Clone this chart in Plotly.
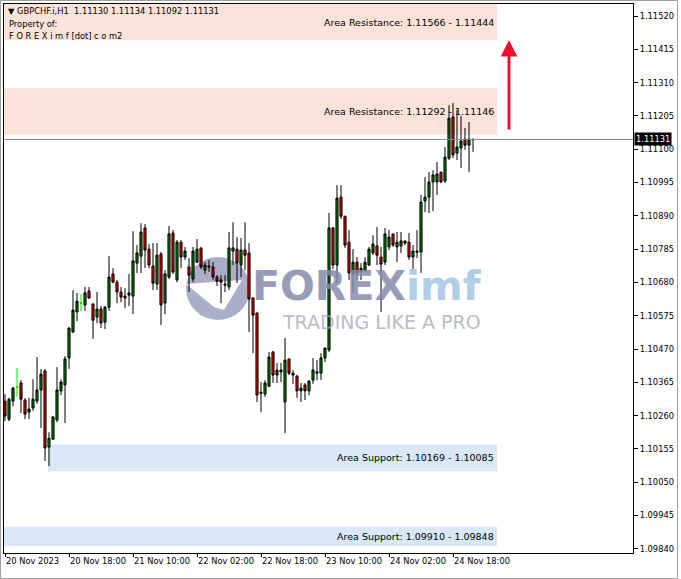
import plotly.graph_objects as go

# ---------------- data ----------------
symbol = "GBPCHF.i,H1"
opens = [1.10306, 1.10249, 1.10306, 1.10350, 1.10363, 1.10309, 1.10271, 1.10284, 1.10306, 1.10341,
         1.10401, 1.10161, 1.10186, 1.10246, 1.10338, 1.10357, 1.10442, 1.10524, 1.10587, 1.10615,
         1.10609, 1.10653, 1.10612, 1.10571, 1.10596, 1.10555, 1.10602, 1.10707, 1.10681, 1.10650,
         1.10637, 1.10640, 1.10637, 1.10741, 1.10763, 1.10852, 1.10785, 1.10732, 1.10675, 1.10770,
         1.10615, 1.10697, 1.10836, 1.10688, 1.10807, 1.10760, 1.10729, 1.10691, 1.10744, 1.10789,
         1.10719, 1.10732, 1.10729, 1.10697, 1.10688, 1.10675, 1.10666, 1.10779, 1.10785, 1.10735,
         1.10782, 1.10773, 1.10631, 1.10584, 1.10334, 1.10328, 1.10353, 1.10461, 1.10388, 1.10404,
         1.10303, 1.10439, 1.10394, 1.10385, 1.10338, 1.10357, 1.10338, 1.10372, 1.10394, 1.10394,
         1.10442, 1.10467, 1.10852, 1.10735, 1.10949, 1.10889, 1.10807, 1.10707, 1.10744, 1.10716,
         1.10716, 1.10735, 1.10773, 1.10795, 1.10760, 1.10744, 1.10792, 1.10833, 1.10792, 1.10795,
         1.10811, 1.10807, 1.10760, 1.10779, 1.10776, 1.10937, 1.10949, 1.10997, 1.10997, 1.11028,
         1.11000, 1.11072, 1.11202, 1.11088, 1.11104, 1.11132, 1.11113, 1.11130]
highs = [1.10328, 1.10316, 1.10350, 1.10410, 1.10372, 1.10316, 1.10316, 1.10375, 1.10445, 1.10407,
         1.10407, 1.10208, 1.10259, 1.10413, 1.10375, 1.10448, 1.10539, 1.10656, 1.10647, 1.10643,
         1.10666, 1.10666, 1.10615, 1.10650, 1.10606, 1.10606, 1.10763, 1.10725, 1.10688, 1.10666,
         1.10662, 1.10707, 1.10842, 1.10798, 1.10867, 1.10864, 1.10801, 1.10804, 1.10804, 1.10776,
         1.10719, 1.10858, 1.10845, 1.10814, 1.10814, 1.10792, 1.10757, 1.10792, 1.10817, 1.10789,
         1.10744, 1.10751, 1.10744, 1.10703, 1.10703, 1.10703, 1.10839, 1.10870, 1.10823, 1.10820,
         1.10870, 1.10804, 1.10634, 1.10584, 1.10366, 1.10372, 1.10461, 1.10464, 1.10426, 1.10426,
         1.10505, 1.10439, 1.10404, 1.10388, 1.10363, 1.10363, 1.10372, 1.10442, 1.10435, 1.10457,
         1.10476, 1.10899, 1.10855, 1.10987, 1.10987, 1.10889, 1.10845, 1.10785, 1.10760, 1.10741,
         1.10760, 1.10792, 1.10829, 1.10855, 1.10792, 1.10852, 1.10845, 1.10833, 1.10839, 1.10839,
         1.10811, 1.10836, 1.10798, 1.10845, 1.10956, 1.11012, 1.11028, 1.11034, 1.11060, 1.11028,
         1.11107, 1.11239, 1.11246, 1.11224, 1.11205, 1.11167, 1.11186, 1.11134]
lows = [1.10243, 1.10243, 1.10290, 1.10319, 1.10268, 1.10249, 1.10249, 1.10275, 1.10297, 1.10221,
        1.10117, 1.10101, 1.10183, 1.10240, 1.10325, 1.10237, 1.10407, 1.10520, 1.10558, 1.10590,
        1.10590, 1.10628, 1.10502, 1.10552, 1.10536, 1.10533, 1.10590, 1.10678, 1.10615, 1.10618,
        1.10599, 1.10606, 1.10580, 1.10710, 1.10710, 1.10725, 1.10725, 1.10656, 1.10656, 1.10546,
        1.10580, 1.10691, 1.10707, 1.10681, 1.10725, 1.10751, 1.10650, 1.10681, 1.10741, 1.10722,
        1.10707, 1.10713, 1.10688, 1.10669, 1.10615, 1.10650, 1.10656, 1.10735, 1.10678, 1.10697,
        1.10719, 1.10524, 1.10457, 1.10303, 1.10271, 1.10319, 1.10350, 1.10363, 1.10363, 1.10366,
        1.10205, 1.10388, 1.10360, 1.10316, 1.10303, 1.10309, 1.10325, 1.10360, 1.10372, 1.10372,
        1.10429, 1.10461, 1.10722, 1.10678, 1.10880, 1.10789, 1.10688, 1.10647, 1.10688, 1.10688,
        1.10713, 1.10732, 1.10766, 1.10735, 1.10587, 1.10735, 1.10782, 1.10792, 1.10744, 1.10773,
        1.10798, 1.10751, 1.10722, 1.10757, 1.10710, 1.10902, 1.10899, 1.10905, 1.10956, 1.10993,
        1.10993, 1.11066, 1.11072, 1.11066, 1.11041, 1.11098, 1.11028, 1.11092]
closes = [1.10259, 1.10312, 1.10347, 1.10350, 1.10312, 1.10265, 1.10281, 1.10312, 1.10341, 1.10391,
          1.10158, 1.10189, 1.10256, 1.10341, 1.10366, 1.10439, 1.10536, 1.10593, 1.10621, 1.10615,
          1.10647, 1.10631, 1.10561, 1.10596, 1.10552, 1.10602, 1.10697, 1.10681, 1.10650, 1.10634,
          1.10631, 1.10647, 1.10748, 1.10773, 1.10839, 1.10782, 1.10735, 1.10678, 1.10766, 1.10609,
          1.10707, 1.10833, 1.10713, 1.10807, 1.10760, 1.10779, 1.10703, 1.10779, 1.10785, 1.10729,
          1.10735, 1.10729, 1.10697, 1.10684, 1.10681, 1.10672, 1.10789, 1.10789, 1.10741, 1.10782,
          1.10766, 1.10628, 1.10577, 1.10325, 1.10331, 1.10363, 1.10445, 1.10388, 1.10404, 1.10398,
          1.10435, 1.10394, 1.10388, 1.10338, 1.10347, 1.10338, 1.10369, 1.10404, 1.10398, 1.10442,
          1.10473, 1.10852, 1.10735, 1.10946, 1.10889, 1.10798, 1.10710, 1.10744, 1.10710, 1.10725,
          1.10744, 1.10785, 1.10801, 1.10766, 1.10738, 1.10833, 1.10823, 1.10798, 1.10807, 1.10811,
          1.10804, 1.10760, 1.10779, 1.10776, 1.10934, 1.10949, 1.10997, 1.11019, 1.11022, 1.10997,
          1.11075, 1.11198, 1.11082, 1.11107, 1.11126, 1.11113, 1.11132, 1.11131]
bars = list(range(1, len(opens) + 1))

time_tick_bars = [1, 17, 33, 49, 65, 81, 97, 113]
time_tick_labels = ["20 Nov 2023", "20 Nov 18:00", "21 Nov 10:00", "22 Nov 02:00",
                    "22 Nov 18:00", "23 Nov 10:00", "24 Nov 02:00", "24 Nov 18:00"]

price_ticks = [1.09840, 1.09945, 1.10050, 1.10155, 1.10260, 1.10365, 1.10470, 1.10575, 1.10680,
               1.10785, 1.10890, 1.10995, 1.11100, 1.11205, 1.11310, 1.11415, 1.11520]

zone_names = ["Area Resistance", "Area Resistance", "Area Support", "Area Support"]
zone_high = [1.11566, 1.11292, 1.10169, 1.09910]
zone_low = [1.11444, 1.11146, 1.10085, 1.09848]
zone_start_bar = [0.75, 0.75, 11.75, 0.75]
zone_end_bar = 124
zone_kind = ["res", "res", "sup", "sup"]

current_price = closes[-1]
header_text = "%s  %.5f %.5f %.5f %.5f" % (symbol, opens[-1], highs[-1], lows[-1], closes[-1])

# ---------------- figure ----------------
W, H = 681, 579
ML, MR, MT, MB = 4, 48, 4, 26
PW, PH = W - ML - MR, H - MT - MB
X_MIN, X_MAX = 0.75, 0.75 + PW / 4.0
Y_MIN, Y_MAX = 1.09827, 1.11558
FONT = "DejaVu Sans"


def px(x):
    return (x - ML) / PW


def py(y):
    return 1 - (y - MT) / PH


def dx(x):
    return X_MIN + (x - ML) / PW * (X_MAX - X_MIN)


def dy(y):
    return Y_MAX - (y - MT) / PH * (Y_MAX - Y_MIN)


doji = [o == c for o, c in zip(opens, closes)]
nd = [i for i in range(len(bars)) if not doji[i]]
dj = [i for i in range(len(bars)) if doji[i]]

fig = go.Figure()

# watermark text (drawn beneath the candles)
fig.add_trace(go.Scatter(
    x=[dx(252)], y=[dy(290)], mode="text", textposition="middle right",
    text=["<b>FOREX</b><span style='color:rgba(150,190,225,0.9)'><b>imf</b></span>"],
    textfont=dict(family="DejaVu Sans", size=41, color="rgba(135,138,170,0.85)"),
    hoverinfo="skip", showlegend=False, cliponaxis=False))
fig.add_trace(go.Scatter(
    x=[dx(283)], y=[dy(324)], mode="text", textposition="middle right",
    text=["TRADING LIKE A PRO"],
    textfont=dict(family="DejaVu Sans", size=19, color="rgba(165,168,188,0.8)"),
    hoverinfo="skip", showlegend=False, cliponaxis=False))

fig.add_trace(go.Candlestick(
    x=[bars[i] for i in nd], open=[opens[i] for i in nd], high=[highs[i] for i in nd],
    low=[lows[i] for i in nd], close=[closes[i] for i in nd],
    increasing=dict(line=dict(color="black", width=1), fillcolor="#0b7a0b"),
    decreasing=dict(line=dict(color="black", width=1), fillcolor="#e60000"),
    whiskerwidth=0, showlegend=False, hoverinfo="skip"))

fig.add_trace(go.Candlestick(
    x=[bars[i] for i in dj], open=[opens[i] for i in dj], high=[highs[i] for i in dj],
    low=[lows[i] for i in dj], close=[closes[i] for i in dj],
    increasing=dict(line=dict(color="#00e600", width=1), fillcolor="#00e600"),
    decreasing=dict(line=dict(color="#00e600", width=1), fillcolor="#00e600"),
    whiskerwidth=0, showlegend=False, hoverinfo="skip"))

shapes = []
annotations = []

# window frame
shapes.append(dict(type="rect", xref="paper", yref="paper", x0=px(0.5), x1=px(W - 3.5),
                   y0=py(H - 0.5), y1=py(0.5),
                   line=dict(color="#a0a0a0", width=1), fillcolor="rgba(0,0,0,0)", layer="below"))

for name, hi, lo, sb, kind in zip(zone_names, zone_high, zone_low, zone_start_bar, zone_kind):
    fill = "#fbe3d9" if kind == "res" else "#d8e8f7"
    shapes.append(dict(type="rect", xref="x", yref="y", x0=sb, x1=zone_end_bar,
                       y0=lo, y1=hi, fillcolor=fill, line=dict(width=0), layer="below"))
    ymid = (max(lo, Y_MIN) + min(hi, Y_MAX)) / 2
    annotations.append(dict(xref="x", yref="y", x=zone_end_bar - 0.3, y=ymid,
                            text="%s: %.5f - %.5f" % (name, hi, lo), showarrow=False,
                            xanchor="right", yanchor="middle",
                            font=dict(family=FONT, size=9.5, color="black")))

# current price line
shapes.append(dict(type="line", xref="paper", yref="y", x0=0, x1=1, y0=current_price,
                   y1=current_price, line=dict(color="#7d8a96", width=1)))

# watermark logo
shapes.append(dict(type="circle", xref="paper", yref="paper",
                   x0=px(186), x1=px(250), y0=py(320), y1=py(257),
                   fillcolor="rgba(140,142,180,0.72)", line=dict(width=0), layer="below"))
shapes.append(dict(type="path", xref="paper", yref="paper",
                   path="M %f %f L %f %f L %f %f L %f %f Z" % (
                       px(186), py(284), px(242), py(280), px(224), py(310), px(214), py(307)),
                   fillcolor="white", line=dict(width=0), layer="below"))

# header texts
annotations.append(dict(xref="paper", yref="paper", x=px(6), y=py(11),
                        text="\u25bc " + header_text, showarrow=False, xanchor="left", yanchor="middle",
                        font=dict(family=FONT, size=8.3, color="black")))
annotations.append(dict(xref="paper", yref="paper", x=px(7), y=py(24),
                        text="Property of:", showarrow=False, xanchor="left", yanchor="middle",
                        font=dict(family=FONT, size=8.3, color="black")))
annotations.append(dict(xref="paper", yref="paper", x=px(7), y=py(36),
                        text="F O R E X i m f [dot] c o m2", showarrow=False, xanchor="left",
                        yanchor="middle", font=dict(family=FONT, size=8.3, color="black")))

# red arrow
annotations.append(dict(xref="x", yref="y", x=127, y=dy(40),
                        ax=0, ay=91, text="", showarrow=True,
                        arrowhead=2, arrowsize=1.1, arrowwidth=3, arrowcolor="#e8102a"))

# current price tag
annotations.append(dict(xref="paper", yref="y", x=1, y=current_price, text="%.5f" % current_price,
                        showarrow=False, xanchor="left", yanchor="middle", bgcolor="black",
                        font=dict(family=FONT, size=8.3, color="white"), borderpad=1,
                        xshift=1))

fig.update_layout(
    width=W, height=H,
    margin=dict(l=ML, r=MR, t=MT, b=MB, autoexpand=False),
    paper_bgcolor="white", plot_bgcolor="white",
    shapes=shapes, annotations=annotations,
    showlegend=False,
    xaxis=dict(range=[X_MIN, X_MAX], rangeslider=dict(visible=False), showgrid=False,
               zeroline=False, tickmode="array", tickvals=time_tick_bars, ticktext=time_tick_labels,
               ticks="outside", ticklen=3, tickcolor="black", ticklabelposition="outside right",
               tickangle=0, automargin=False,
               showline=True, linecolor="black", linewidth=1, mirror=True,
               tickfont=dict(family=FONT, size=8.3, color="black"), fixedrange=True),
    yaxis=dict(range=[Y_MIN, Y_MAX], side="right", showgrid=False, zeroline=False,
               tickmode="array", tickvals=price_ticks, ticktext=["%.5f" % v for v in price_ticks],
               ticks="outside", ticklen=4, tickcolor="black", showline=True, linecolor="black",
               linewidth=1, mirror=True, automargin=False,
               tickfont=dict(family=FONT, size=8.3, color="black"), fixedrange=True),
    boxgap=0.25,
)

fig.write_html("out.html", config={"displayModeBar": False},
               post_script="document.body.style.margin='0';document.body.style.overflow='hidden';")
